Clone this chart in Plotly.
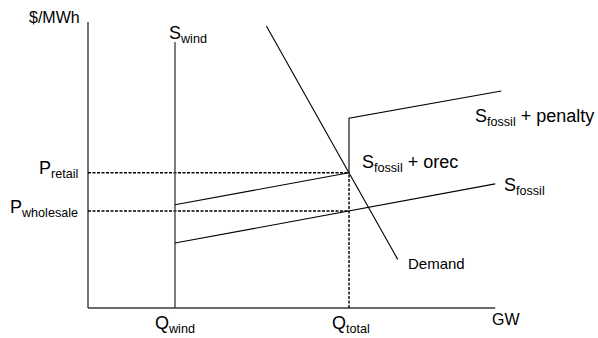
import plotly.graph_objects as go

# Quantities (GW units) and prices ($/MWh units)
q_wind = 10.0
q_total = 30.0
q_axis_end = 46.8
p_axis_top = 100.0
p_retail = 47.3
p_wholesale = 33.9

# Curves
swind_x = [q_wind, q_wind]
swind_y = [0.0, 93.0]
orec_x = [q_wind, q_total]
orec_y = [36.1, 47.3]
fossil_x = [q_wind, 46.8]
fossil_y = [22.7, 43.4]
penalty_x = [q_total, q_total, 47.5]
penalty_y = [47.3, 66.4, 75.9]
demand_x = [20.5, 35.6]
demand_y = [98.6, 17.0]

FONT = "Liberation Sans, Arial, sans-serif"
fig = go.Figure()

def line(x, y, color="#000000", width=1.1, dash="solid"):
    fig.add_trace(go.Scatter(x=x, y=y, mode="lines",
                             line=dict(color=color, width=width, dash=dash),
                             hoverinfo="skip", showlegend=False))

# axes
line([0, 0], [0, p_axis_top], color="#3a3a3a", width=1.4)
line([0, q_axis_end], [0, 0], color="#3a3a3a", width=1.4)
# dashed guides
line([0, q_total], [p_retail, p_retail], width=1.4, dash="3px,1.5px")
line([0, q_total], [p_wholesale, p_wholesale], width=1.4, dash="3px,1.5px")
line([q_total, q_total], [0, p_retail], width=1.4, dash="3px,1.5px")
# curves
line(swind_x, swind_y, color="#3a3a3a", width=1.3)
line(orec_x, orec_y)
line(fossil_x, fossil_y)
line(penalty_x, penalty_y)
line(demand_x, demand_y)

def label(text, x, y, xanchor="left", size=18, yshift=0):
    fig.add_annotation(x=x, y=y, text=text, showarrow=False, xanchor=xanchor,
                       yanchor="middle", yshift=yshift,
                       font=dict(family=FONT, size=size, color="#000000"))

label("$/MWh", -0.7, 101.5, xanchor="right", size=16)
label("S<sub>wind</sub>", 9.1, 95.5)
label("P<sub>retail</sub>", -0.9, p_retail, xanchor="right", yshift=3)
label("P<sub>wholesale</sub>", -0.9, p_wholesale, xanchor="right", yshift=3)
label("S<sub>fossil</sub> + penalty", 44.25, 66.5)
label("S<sub>fossil</sub> + orec", 31.3, 50.5)
label("S<sub>fossil</sub>", 47.6, 42.5)
label("Demand", 36.55, 15.4, size=15)
label("GW", 46.2, -4.0, size=16)
label("Q<sub>wind</sub>", q_wind, -5.8, xanchor="center")
label("Q<sub>total</sub>", q_total + 0.2, -5.8, xanchor="center")

fig.update_layout(
    width=598, height=338,
    margin=dict(l=0, r=0, t=0, b=0),
    paper_bgcolor="white", plot_bgcolor="white",
    xaxis=dict(range=[-10.115, 58.62], visible=False, fixedrange=True),
    yaxis=dict(range=[-10.49, 107.69], visible=False, fixedrange=True),
    showlegend=False,
)

fig.write_html("out.html", config={"displayModeBar": False},
               post_script="document.body.style.margin='0';document.body.style.overflow='hidden';")
